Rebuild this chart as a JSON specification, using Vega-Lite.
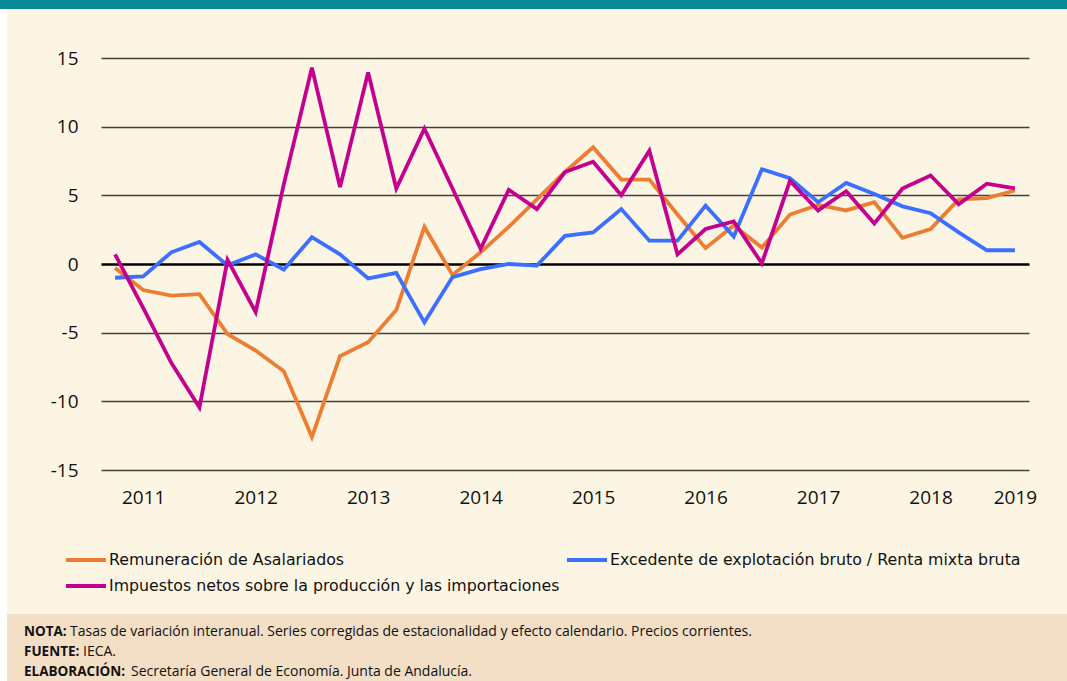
{
  "$schema": "https://vega.github.io/schema/vega-lite/v6.json",
  "background": "#FFFFFF",
  "padding": 0,
  "spacing": 0,
  "config": {"view": {"stroke": null}, "font": "Open Sans"},
  "datasets": {
    "datos": [
      {"trimestre": "2011T1", "Remuneración de Asalariados": -0.3, "Excedente de explotación bruto / Renta mixta bruta": -1.0, "Impuestos netos sobre la producción y las importaciones": 0.7},
      {"trimestre": "2011T2", "Remuneración de Asalariados": -1.9, "Excedente de explotación bruto / Renta mixta bruta": -0.9, "Impuestos netos sobre la producción y las importaciones": -3.2},
      {"trimestre": "2011T3", "Remuneración de Asalariados": -2.3, "Excedente de explotación bruto / Renta mixta bruta": 0.85, "Impuestos netos sobre la producción y las importaciones": -7.2},
      {"trimestre": "2011T4", "Remuneración de Asalariados": -2.2, "Excedente de explotación bruto / Renta mixta bruta": 1.6, "Impuestos netos sobre la producción y las importaciones": -10.45},
      {"trimestre": "2012T1", "Remuneración de Asalariados": -5.1, "Excedente de explotación bruto / Renta mixta bruta": -0.1, "Impuestos netos sobre la producción y las importaciones": 0.3},
      {"trimestre": "2012T2", "Remuneración de Asalariados": -6.3, "Excedente de explotación bruto / Renta mixta bruta": 0.7, "Impuestos netos sobre la producción y las importaciones": -3.5},
      {"trimestre": "2012T3", "Remuneración de Asalariados": -7.8, "Excedente de explotación bruto / Renta mixta bruta": -0.4, "Impuestos netos sobre la producción y las importaciones": 5.8},
      {"trimestre": "2012T4", "Remuneración de Asalariados": -12.6, "Excedente de explotación bruto / Renta mixta bruta": 1.95, "Impuestos netos sobre la producción y las importaciones": 14.3},
      {"trimestre": "2013T1", "Remuneración de Asalariados": -6.7, "Excedente de explotación bruto / Renta mixta bruta": 0.7, "Impuestos netos sobre la producción y las importaciones": 5.6},
      {"trimestre": "2013T2", "Remuneración de Asalariados": -5.7, "Excedente de explotación bruto / Renta mixta bruta": -1.05, "Impuestos netos sobre la producción y las importaciones": 13.95},
      {"trimestre": "2013T3", "Remuneración de Asalariados": -3.35, "Excedente de explotación bruto / Renta mixta bruta": -0.65, "Impuestos netos sobre la producción y las importaciones": 5.5},
      {"trimestre": "2013T4", "Remuneración de Asalariados": 2.7, "Excedente de explotación bruto / Renta mixta bruta": -4.25, "Impuestos netos sobre la producción y las importaciones": 9.85},
      {"trimestre": "2014T1", "Remuneración de Asalariados": -0.8, "Excedente de explotación bruto / Renta mixta bruta": -0.95, "Impuestos netos sobre la producción y las importaciones": 5.5},
      {"trimestre": "2014T2", "Remuneración de Asalariados": 0.85, "Excedente de explotación bruto / Renta mixta bruta": -0.37, "Impuestos netos sobre la producción y las importaciones": 1.1},
      {"trimestre": "2014T3", "Remuneración de Asalariados": 2.7, "Excedente de explotación bruto / Renta mixta bruta": 0.0, "Impuestos netos sobre la producción y las importaciones": 5.4},
      {"trimestre": "2014T4", "Remuneración de Asalariados": 4.7, "Excedente de explotación bruto / Renta mixta bruta": -0.12, "Impuestos netos sobre la producción y las importaciones": 4.0},
      {"trimestre": "2015T1", "Remuneración de Asalariados": 6.7, "Excedente de explotación bruto / Renta mixta bruta": 2.05, "Impuestos netos sobre la producción y las importaciones": 6.7},
      {"trimestre": "2015T2", "Remuneración de Asalariados": 8.5, "Excedente de explotación bruto / Renta mixta bruta": 2.3, "Impuestos netos sobre la producción y las importaciones": 7.45},
      {"trimestre": "2015T3", "Remuneración de Asalariados": 6.15, "Excedente de explotación bruto / Renta mixta bruta": 4.0, "Impuestos netos sobre la producción y las importaciones": 5.0},
      {"trimestre": "2015T4", "Remuneración de Asalariados": 6.15, "Excedente de explotación bruto / Renta mixta bruta": 1.7, "Impuestos netos sobre la producción y las importaciones": 8.25},
      {"trimestre": "2016T1", "Remuneración de Asalariados": 3.6, "Excedente de explotación bruto / Renta mixta bruta": 1.7, "Impuestos netos sobre la producción y las importaciones": 0.7},
      {"trimestre": "2016T2", "Remuneración de Asalariados": 1.15, "Excedente de explotación bruto / Renta mixta bruta": 4.25, "Impuestos netos sobre la producción y las importaciones": 2.55},
      {"trimestre": "2016T3", "Remuneración de Asalariados": 2.8, "Excedente de explotación bruto / Renta mixta bruta": 2.0, "Impuestos netos sobre la producción y las importaciones": 3.1},
      {"trimestre": "2016T4", "Remuneración de Asalariados": 1.2, "Excedente de explotación bruto / Renta mixta bruta": 6.9, "Impuestos netos sobre la producción y las importaciones": 0.05},
      {"trimestre": "2017T1", "Remuneración de Asalariados": 3.6, "Excedente de explotación bruto / Renta mixta bruta": 6.25, "Impuestos netos sobre la producción y las importaciones": 6.05},
      {"trimestre": "2017T2", "Remuneración de Asalariados": 4.3, "Excedente de explotación bruto / Renta mixta bruta": 4.5, "Impuestos netos sobre la producción y las importaciones": 3.9},
      {"trimestre": "2017T3", "Remuneración de Asalariados": 3.9, "Excedente de explotación bruto / Renta mixta bruta": 5.9, "Impuestos netos sobre la producción y las importaciones": 5.3},
      {"trimestre": "2017T4", "Remuneración de Asalariados": 4.5, "Excedente de explotación bruto / Renta mixta bruta": 5.1, "Impuestos netos sobre la producción y las importaciones": 2.95},
      {"trimestre": "2018T1", "Remuneración de Asalariados": 1.9, "Excedente de explotación bruto / Renta mixta bruta": 4.2, "Impuestos netos sobre la producción y las importaciones": 5.5},
      {"trimestre": "2018T2", "Remuneración de Asalariados": 2.55, "Excedente de explotación bruto / Renta mixta bruta": 3.7, "Impuestos netos sobre la producción y las importaciones": 6.45},
      {"trimestre": "2018T3", "Remuneración de Asalariados": 4.7, "Excedente de explotación bruto / Renta mixta bruta": 2.3, "Impuestos netos sobre la producción y las importaciones": 4.35},
      {"trimestre": "2018T4", "Remuneración de Asalariados": 4.8, "Excedente de explotación bruto / Renta mixta bruta": 1.0, "Impuestos netos sobre la producción y las importaciones": 5.85},
      {"trimestre": "2019T1", "Remuneración de Asalariados": 5.35, "Excedente de explotación bruto / Renta mixta bruta": 1.0, "Impuestos netos sobre la producción y las importaciones": 5.5}
    ],
    "notas": [
      {"etiqueta": "NOTA:", "texto": "Tasas de variación interanual. Series corregidas de estacionalidad y efecto calendario. Precios corrientes."},
      {"etiqueta": "FUENTE:", "texto": "IECA."},
      {"etiqueta": "ELABORACIÓN:", "texto": "Secretaría General de Economía. Junta de Andalucía."}
    ]
  },
  "vconcat": [
    {
      "width": 1067, "height": 9,
      "view": {"fill": "#068A97", "stroke": null},
      "data": {"values": []},
      "mark": "text",
      "encoding": {}
    },
    {
      "spacing": 0,
      "hconcat": [
        {
          "width": 7, "height": 605,
          "view": {"fill": "#FFFFFF", "stroke": null},
          "data": {"values": []},
          "mark": "text",
          "encoding": {}
        },
        {
          "width": 1060, "height": 605,
          "view": {"fill": "#FDF5E4", "stroke": null},
          "data": {"name": "datos"},
          "transform": [
            {"fold": ["Remuneración de Asalariados", "Excedente de explotación bruto / Renta mixta bruta", "Impuestos netos sobre la producción y las importaciones"], "as": ["serie", "valor"]}
          ],
          "mark": {"type": "line", "strokeWidth": 3.8},
          "encoding": {
            "x": {
              "field": "trimestre", "type": "ordinal", "sort": null, "title": null,
              "scale": {"type": "point", "padding": 0.5, "range": [94, 1022]},
              "axis": {
                "values": ["2011T2", "2012T2", "2013T2", "2014T2", "2015T2", "2016T2", "2017T2", "2018T2", "2019T1"],
                "labelExpr": "substring(datum.value, 0, 4)",
                "labelAngle": 0, "ticks": false, "domain": false, "grid": false,
                "offset": -144,
                "labelFont": "Open Sans", "labelFontSize": 19, "labelColor": "#111111", "labelPadding": 18
              }
            },
            "y": {
              "field": "valor", "type": "quantitative", "title": null,
              "scale": {"domain": [-15, 15], "range": [461, 49], "nice": false, "zero": false},
              "axis": {
                "values": [-15, -10, -5, 0, 5, 10, 15],
                "labelExpr": "replace(datum.label, '−', '-')",
                "grid": true,
                "gridColor": {"condition": {"test": "datum.value === 0", "value": "#000000"}, "value": "#454039"},
                "gridWidth": {"condition": {"test": "datum.value === 0", "value": 2.6}, "value": 1.6},
                "domain": false, "ticks": false,
                "offset": -94,
                "labelFont": "Open Sans", "labelFontSize": 19, "labelColor": "#111111", "labelPadding": 23
              }
            },
            "color": {
              "field": "serie", "type": "nominal",
              "scale": {
                "domain": ["Remuneración de Asalariados", "Impuestos netos sobre la producción y las importaciones", "Excedente de explotación bruto / Renta mixta bruta"],
                "range": ["#ED7D31", "#C4008F", "#3A6FFF"]
              },
              "legend": {
                "title": null, "orient": "none", "legendX": 64, "legendY": 538,
                "columns": 2, "columnPadding": -1, "rowPadding": -4, "gridAlign": "none", "padding": 0,
                "symbolType": "stroke", "symbolSize": 1600, "symbolStrokeWidth": 4,
                "labelFont": "DejaVu Sans", "labelFontSize": 15.8, "labelColor": "#111111", "labelOffset": 1, "labelLimit": 700
              }
            }
          }
        }
      ]
    },
    {
      "spacing": 0,
      "hconcat": [
        {
          "width": 7, "height": 67,
          "view": {"fill": "#FFFFFF", "stroke": null},
          "data": {"values": []},
          "mark": "text",
          "encoding": {}
        },
        {
          "width": 1060, "height": 67,
          "view": {"fill": "#F2DFC6", "stroke": null},
          "data": {"name": "notas"},
          "encoding": {
            "y": {"field": "etiqueta", "type": "ordinal", "sort": null, "axis": null, "scale": {"type": "point", "padding": 0.675}}
          },
          "layer": [
            {
              "mark": {"type": "text", "align": "left", "baseline": "middle", "dy": 4.5, "x": 17, "font": "Open Sans", "fontSize": 13.5, "fontWeight": "bold", "color": "#111111"},
              "encoding": {"text": {"field": "etiqueta"}}
            },
            {
              "transform": [{"filter": "datum.etiqueta === 'NOTA:'"}],
              "mark": {"type": "text", "align": "left", "baseline": "middle", "dy": 4.5, "x": 63, "font": "Open Sans", "fontSize": 14, "color": "#111111"},
              "encoding": {"text": {"field": "texto"}}
            },
            {
              "transform": [{"filter": "datum.etiqueta === 'FUENTE:'"}],
              "mark": {"type": "text", "align": "left", "baseline": "middle", "dy": 4.5, "x": 76, "font": "Open Sans", "fontSize": 14, "color": "#111111"},
              "encoding": {"text": {"field": "texto"}}
            },
            {
              "transform": [{"filter": "datum.etiqueta === 'ELABORACIÓN:'"}],
              "mark": {"type": "text", "align": "left", "baseline": "middle", "dy": 4.5, "x": 124, "font": "Open Sans", "fontSize": 14, "color": "#111111"},
              "encoding": {"text": {"field": "texto"}}
            }
          ]
        }
      ]
    }
  ]
}
